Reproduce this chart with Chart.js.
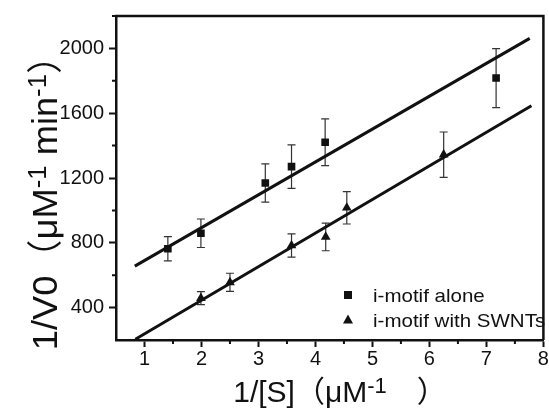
<!DOCTYPE html>
<html><head><meta charset="utf-8">
<script src="https://cdn.jsdelivr.net/npm/chart.js@4.4.1/dist/chart.umd.min.js"></script>
<style>html,body{margin:0;padding:0;background:#fff}canvas{display:block}</style>
</head><body>
<canvas id="c" width="549" height="412"></canvas>
<script>
// ---- data ----
const aloneX   = [1.41, 1.99, 3.12, 3.58, 4.17, 7.17];
const aloneY   = [763, 859, 1169, 1270, 1421, 1817];
const aloneErr = [75, 88, 118, 134, 144, 182];

const swntX    = [1.99, 2.50, 3.58, 4.18, 4.55, 6.25];
const swntY    = [458, 556, 783, 836, 1016, 1344];
const swntErr  = [40, 56, 72, 85, 100, 140];

// linear fit lines (end points)
const aloneFitX = [0.83, 7.76];
const aloneFitY = [656, 2062];
const swntFitX  = [0.84, 7.79];
const swntFitY  = [205, 1646];

const xTickValues = [1, 2, 3, 4, 5, 6, 7, 8];
const yTickValues = [400, 800, 1200, 1600, 2000];
const xMinorValues = [1.5, 2.5, 3.5, 4.5, 5.5, 6.5, 7.5];
const yMinorValues = [600, 1000, 1400, 1800, 2200];

const legendLabels = ['i-motif alone', 'i-motif with SWNTs'];
const xTitleRuns = [{t:'1/[S]'}, {t:'（', cjk:true}, {t:'μM'}, {t:'-1', sup:true}, {t:'\u2002\u2002'}, {t:'）', cjk:true}];
const yTitleRuns = [{t:'1/V0'}, {t:'（', cjk:true}, {t:'μM'}, {t:'-1', sup:true}, {t:' min'}, {t:'-1', sup:true}, {t:'）', cjk:true}];

const pts = (xs, ys) => xs.map((v, i) => ({x: v, y: ys[i]}));
const FONT = '"Liberation Sans", Arial, sans-serif';
const INK = '#111';

function runFont(r, size) {
  const s = r.sup ? Math.round(size * 0.72) : size;
  const fam = r.cjk ? '"Noto Sans CJK SC", sans-serif' : FONT;
  return s + 'px ' + fam;
}
function drawRuns(ctx, runs, size, cx, baseY) {
  let total = 0;
  const widths = runs.map(r => { ctx.font = runFont(r, size); const w = ctx.measureText(r.t).width; total += w; return w; });
  let x = cx - total / 2;
  runs.forEach((r, i) => {
    ctx.font = runFont(r, size);
    ctx.fillText(r.t, x, baseY - (r.sup ? size * 0.3 : 0));
    x += widths[i];
  });
}

const decor = {
  id: 'decor',
  beforeDatasetsDraw(chart) {
    const {ctx, scales: {x, y}} = chart;
    ctx.save();
    ctx.strokeStyle = '#333';
    ctx.lineWidth = 1.2;
    const bars = (xs, ys, es) => xs.forEach((v, i) => {
      const px = x.getPixelForValue(v);
      const t = y.getPixelForValue(ys[i] + es[i]);
      const b = y.getPixelForValue(ys[i] - es[i]);
      ctx.beginPath();
      ctx.moveTo(px, t); ctx.lineTo(px, b);
      ctx.moveTo(px - 4, t); ctx.lineTo(px + 4, t);
      ctx.moveTo(px - 4, b); ctx.lineTo(px + 4, b);
      ctx.stroke();
    });
    bars(aloneX, aloneY, aloneErr);
    bars(swntX, swntY, swntErr);
    ctx.restore();
  },
  afterDraw(chart) {
    const {ctx, chartArea: a, scales: {x, y}} = chart;
    ctx.save();
    ctx.strokeStyle = INK;
    ctx.lineWidth = 2.5;
    ctx.beginPath();
    ctx.moveTo(a.left - 1, a.top); ctx.lineTo(a.right, a.top); ctx.lineTo(a.right, a.bottom);
    ctx.stroke();
    // minor ticks
    ctx.lineWidth = 2;
    ctx.beginPath();
    xMinorValues.forEach(v => { const p = x.getPixelForValue(v); ctx.moveTo(p, a.bottom); ctx.lineTo(p, a.bottom + 4); });
    yMinorValues.forEach(v => { const p = y.getPixelForValue(v); ctx.moveTo(a.left, p); ctx.lineTo(a.left - 4, p); });
    ctx.stroke();

    // legend
    ctx.fillStyle = INK;
    const lx = 348, ly1 = 295, ly2 = 320;
    ctx.fillRect(lx - 4, ly1 - 4, 8, 8);
    ctx.beginPath();
    ctx.moveTo(lx, ly2 - 5.5); ctx.lineTo(lx + 5, ly2 + 3.5); ctx.lineTo(lx - 5, ly2 + 3.5); ctx.closePath(); ctx.fill();
    ctx.font = '19px ' + FONT;
    ctx.textBaseline = 'middle';
    ctx.textAlign = 'left';
    ctx.save(); ctx.translate(373, 0); ctx.scale(1.08, 1);
    ctx.fillText(legendLabels[0], 0, ly1 + 2);
    ctx.fillText(legendLabels[1], 0, ly2 + 2);
    ctx.restore();

    // axis titles
    ctx.textBaseline = 'alphabetic';
    drawRuns(ctx, xTitleRuns, 30, 340, 402);
    ctx.save();
    ctx.translate(57, 194);
    ctx.rotate(-Math.PI / 2);
    ctx.scale(1.17, 1.15);
    drawRuns(ctx, yTitleRuns, 31, 0, 0);
    ctx.restore();
    ctx.restore();
  }
};

new Chart(document.getElementById('c'), {
  type: 'scatter',
  data: {
    datasets: [
      {label: legendLabels[0], data: pts(aloneX, aloneY), pointStyle: 'rect', radius: 5.4,
       backgroundColor: INK, borderColor: INK, borderWidth: 0},
      {label: legendLabels[1], data: pts(swntX, swntY), pointStyle: 'triangle', radius: 5.6,
       backgroundColor: INK, borderColor: INK, borderWidth: 0},
      {type: 'line', label: 'fit1', data: pts(aloneFitX, aloneFitY), borderColor: INK, borderWidth: 3,
       pointRadius: 0, fill: false, tension: 0},
      {type: 'line', label: 'fit2', data: pts(swntFitX, swntFitY), borderColor: INK, borderWidth: 3,
       pointRadius: 0, fill: false, tension: 0}
    ]
  },
  options: {
    responsive: false,
    animation: false,
    layout: {padding: {left: 0, right: 1, top: 16, bottom: 0}},
    plugins: {legend: {display: false}, tooltip: {enabled: false}},
    scales: {
      x: {
        type: 'linear', min: 0.5, max: 8,
        afterBuildTicks: s => { s.ticks = xTickValues.map(v => ({value: v})); },
        afterFit: s => { s.height = 72; s.paddingLeft = 0; s.paddingRight = 0; },
        ticks: {font: {family: FONT, size: 20}, color: INK, padding: 0, maxRotation: 0, autoSkip: false,
                callback: v => String(v)},
        grid: {drawOnChartArea: false, drawTicks: true, tickLength: 7, tickWidth: 2, tickColor: INK, color: INK},
        border: {display: true, color: INK, width: 2.5},
        title: {display: false}
      },
      y: {
        type: 'linear', min: 200, max: 2200,
        afterBuildTicks: s => { s.ticks = yTickValues.map(v => ({value: v})); },
        afterFit: s => { s.width = 116; s.paddingTop = 0; s.paddingBottom = 0; },
        ticks: {font: {family: FONT, size: 20}, color: INK, padding: 5, autoSkip: false,
                callback: v => String(v)},
        grid: {drawOnChartArea: false, drawTicks: true, tickLength: 7, tickWidth: 2, tickColor: INK, color: INK},
        border: {display: true, color: INK, width: 2.5},
        title: {display: false}
      }
    }
  },
  plugins: [decor]
});
</script>
</body></html>
